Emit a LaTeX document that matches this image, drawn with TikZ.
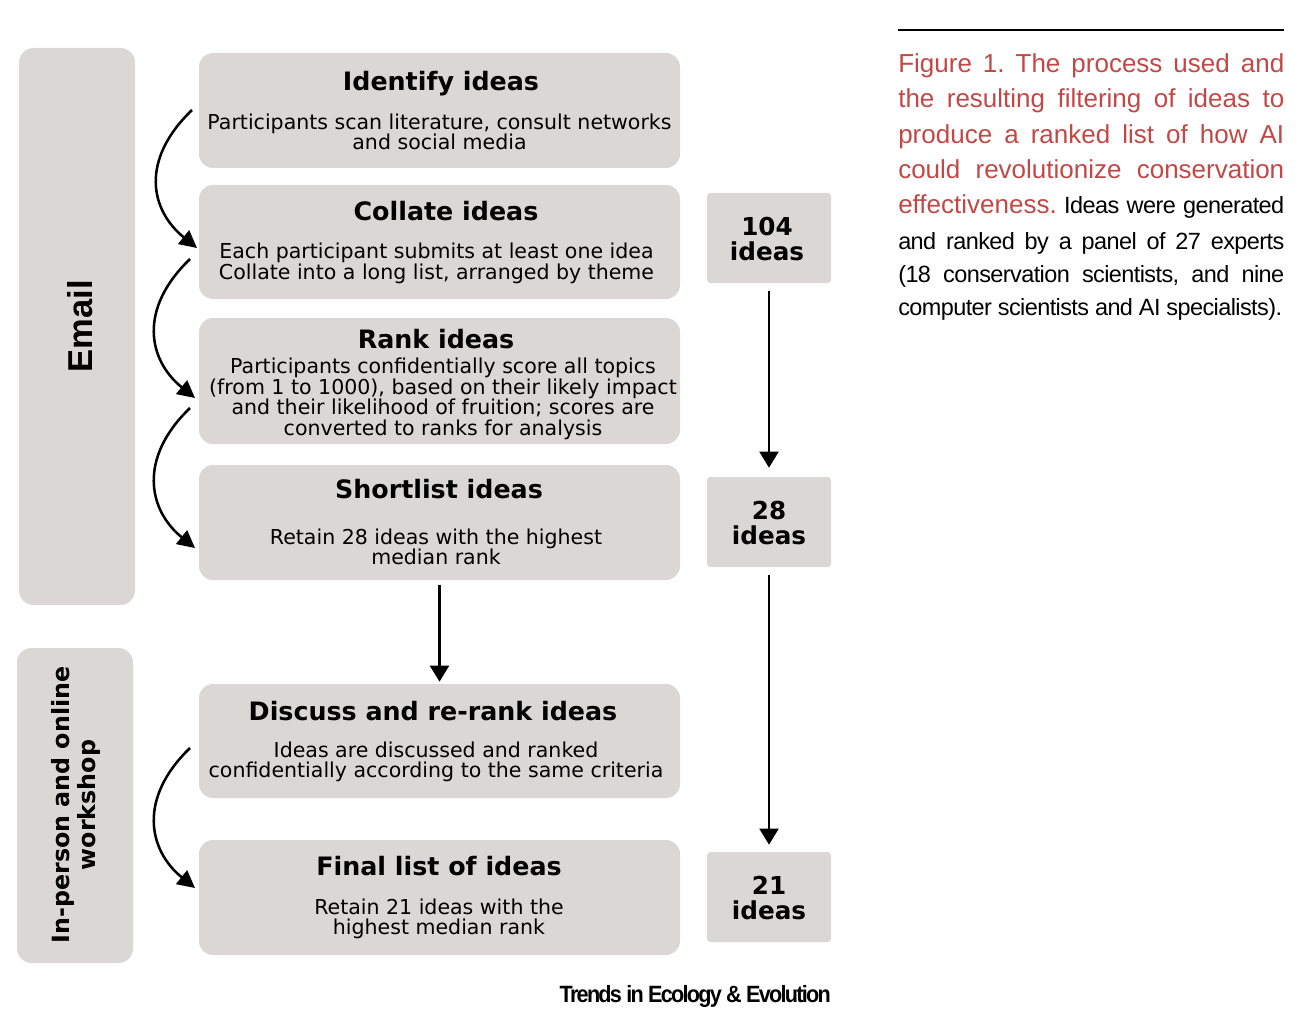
\documentclass[tikz,border=0pt]{standalone}
\usepackage{fontspec}
\setmainfont{DejaVu Sans}
\newfontfamily\capfont{Liberation Sans}
\newfontfamily\capblack[LetterSpace=-2.5]{Liberation Sans}
\newfontfamily\footfont[LetterSpace=-8]{Liberation Sans}
\usetikzlibrary{arrows.meta}
\definecolor{boxgray}{RGB}{218,215,215}
\definecolor{capred}{RGB}{193,72,70}
\begin{document}
\begin{tikzpicture}[x=0.75pt,y=-0.75pt,
  stagebox/.style={fill=boxgray, rounded corners=10.5pt, inner sep=0pt, minimum width=360.75pt},
  sidebox/.style={fill=boxgray, rounded corners=11pt, inner sep=0pt, minimum width=87pt},
  numbox/.style={fill=boxgray, rounded corners=2.5pt, inner sep=0pt, minimum width=93pt, minimum height=67.5pt},
  titletext/.style={font=\fontsize{19}{22}\selectfont\bfseries, inner sep=0pt},
  bodytext/.style={font=\fontsize{15.4}{15.4}\selectfont, align=center, inner sep=0pt},
  numtext/.style={font=\fontsize{18.5}{18.75}\selectfont\bfseries, align=center, inner sep=0pt},
  straightarrow/.style={line width=2.2pt, -{Triangle[length=12pt,width=14pt]}},
  curvearrow/.style={line width=1.9pt, -{Triangle[length=13pt,width=13pt]}}
]
\useasboundingbox (0,0) rectangle (1299,1027);

% side boxes
\node[sidebox, minimum height=417.75pt] (email) at (77,326.5) {};
\node[rotate=90, inner sep=0pt, font=\capfont\fontsize{25.9}{28}\selectfont\bfseries] (emailtxt) at (80,326) {Email};
\node[sidebox, minimum height=236.25pt] (workshop) at (75,805.5) {};
\node[rotate=90, inner sep=0pt, align=center, font=\fontsize{17.8}{19.5}\selectfont\bfseries] (worktxt) at (76,805) {In-person and online\\workshop};

% stage boxes
\node[stagebox, minimum height=86.25pt] (identify) at (439.5,110.5) {};
\node[titletext] (identifyT) at (441,84) {Identify ideas};
\node[bodytext] (identifyB) at (439.5,132) {Participants scan literature, consult networks\\and social media};

\node[stagebox, minimum height=85.5pt] (collate) at (439.5,242) {};
\node[titletext] (collateT) at (446,211.5) {Collate ideas};
\node[bodytext] (collateB) at (436.5,263.5) {Each participant submits at least one idea\\Collate into a long list, arranged by theme};

\node[stagebox, minimum height=94.5pt] (rank) at (439.5,381) {};
\node[titletext] (rankT) at (436,339.5) {Rank ideas};
\node[bodytext] (rankB) at (443,399) {Participants confidentially score all topics\\(from 1 to 1000), based on their likely impact\\and their likelihood of fruition; scores are\\converted to ranks for analysis};

\node[stagebox, minimum height=86.25pt] (shortlist) at (439.5,522.5) {};
\node[titletext] (shortlistT) at (439,489.5) {Shortlist ideas};
\node[bodytext] (shortlistB) at (436,547) {Retain 28 ideas with the highest\\median rank};

\node[stagebox, minimum height=85.5pt] (discuss) at (439.5,741) {};
\node[titletext] (discussT) at (433,711.5) {Discuss and re-rank ideas};
\node[bodytext] (discussB) at (436,762) {Ideas are discussed and ranked\\confidentially according to the same criteria};

\node[stagebox, minimum height=86.25pt] (final) at (439.5,897.5) {};
\node[titletext] (finalT) at (439,866.5) {Final list of ideas};
\node[bodytext] (finalB) at (439,919) {Retain 21 ideas with the\\highest median rank};

% number boxes
\node[numbox] (n104) at (769,238) {};
\node[numtext] (n104t) at (767,239) {104\\ideas};
\node[numbox] (n28) at (769,522) {};
\node[numtext] (n28t) at (769,523) {28\\ideas};
\node[numbox] (n21) at (769,897) {};
\node[numtext] (n21t) at (769,898) {21\\ideas};

% straight arrows
\draw[straightarrow] ([yshift=-6pt]n104.south) -- ([yshift=6.75pt]n28.north);
\draw[straightarrow] ([yshift=-6pt]n28.south) -- ([yshift=5.25pt]n21.north);
\draw[straightarrow] ([yshift=-3.75pt]shortlist.south) -- ([yshift=1.5pt]discuss.north);

% curved arrows
\coordinate (c1s) at (192,110);
\coordinate (c1e) at (197,248);
\coordinate (c2s) at (190,259);
\coordinate (c2e) at (195,398);
\coordinate (c3s) at (190,408);
\coordinate (c3e) at (195,548);
\coordinate (c4s) at (190,748);
\coordinate (c4e) at (195,888);
\draw[curvearrow] (c1s) .. controls +(-52,50) and +(-47,-38) .. (c1e);
\draw[curvearrow] (c2s) .. controls +(-52,50) and +(-47,-38) .. (c2e);
\draw[curvearrow] (c3s) .. controls +(-52,50) and +(-47,-38) .. (c3e);
\draw[curvearrow] (c4s) .. controls +(-52,50) and +(-47,-38) .. (c4e);

% caption
\coordinate (ruleL) at (898,30);
\coordinate (ruleR) at (1284,30);
\draw[line width=1.5pt] (ruleL) -- (ruleR);
\node[anchor=base west, inner sep=0pt] (caption) at (898,72.7) {\parbox[t]{289.5pt}{\tolerance=10000\hyphenpenalty=10000\frenchspacing\parindent=0pt\capfont\fontsize{19.5}{26.45}\selectfont\leavevmode{\color{capred}Figure 1. The process used and\linebreak the resulting filtering of ideas to\linebreak produce a ranked list of how AI\linebreak could revolutionize conservation\linebreak effectiveness.}{\capblack\fontsize{17.6}{26.45}\selectfont{} Ideas were generated}{\parfillskip=0pt\par}
\capblack\fontsize{17.6}{25}\selectfont\vspace{1.6pt}and ranked by a panel of 27 experts\linebreak (18 conservation scientists, and nine\linebreak computer scientists and AI specialists).}};

% footer
\node[anchor=base east, inner sep=0pt] (footer) at (831,1002) {\resizebox{203.25pt}{12.8pt}{\footfont\bfseries Trends in Ecology \& Evolution}};
\end{tikzpicture}
\end{document}
